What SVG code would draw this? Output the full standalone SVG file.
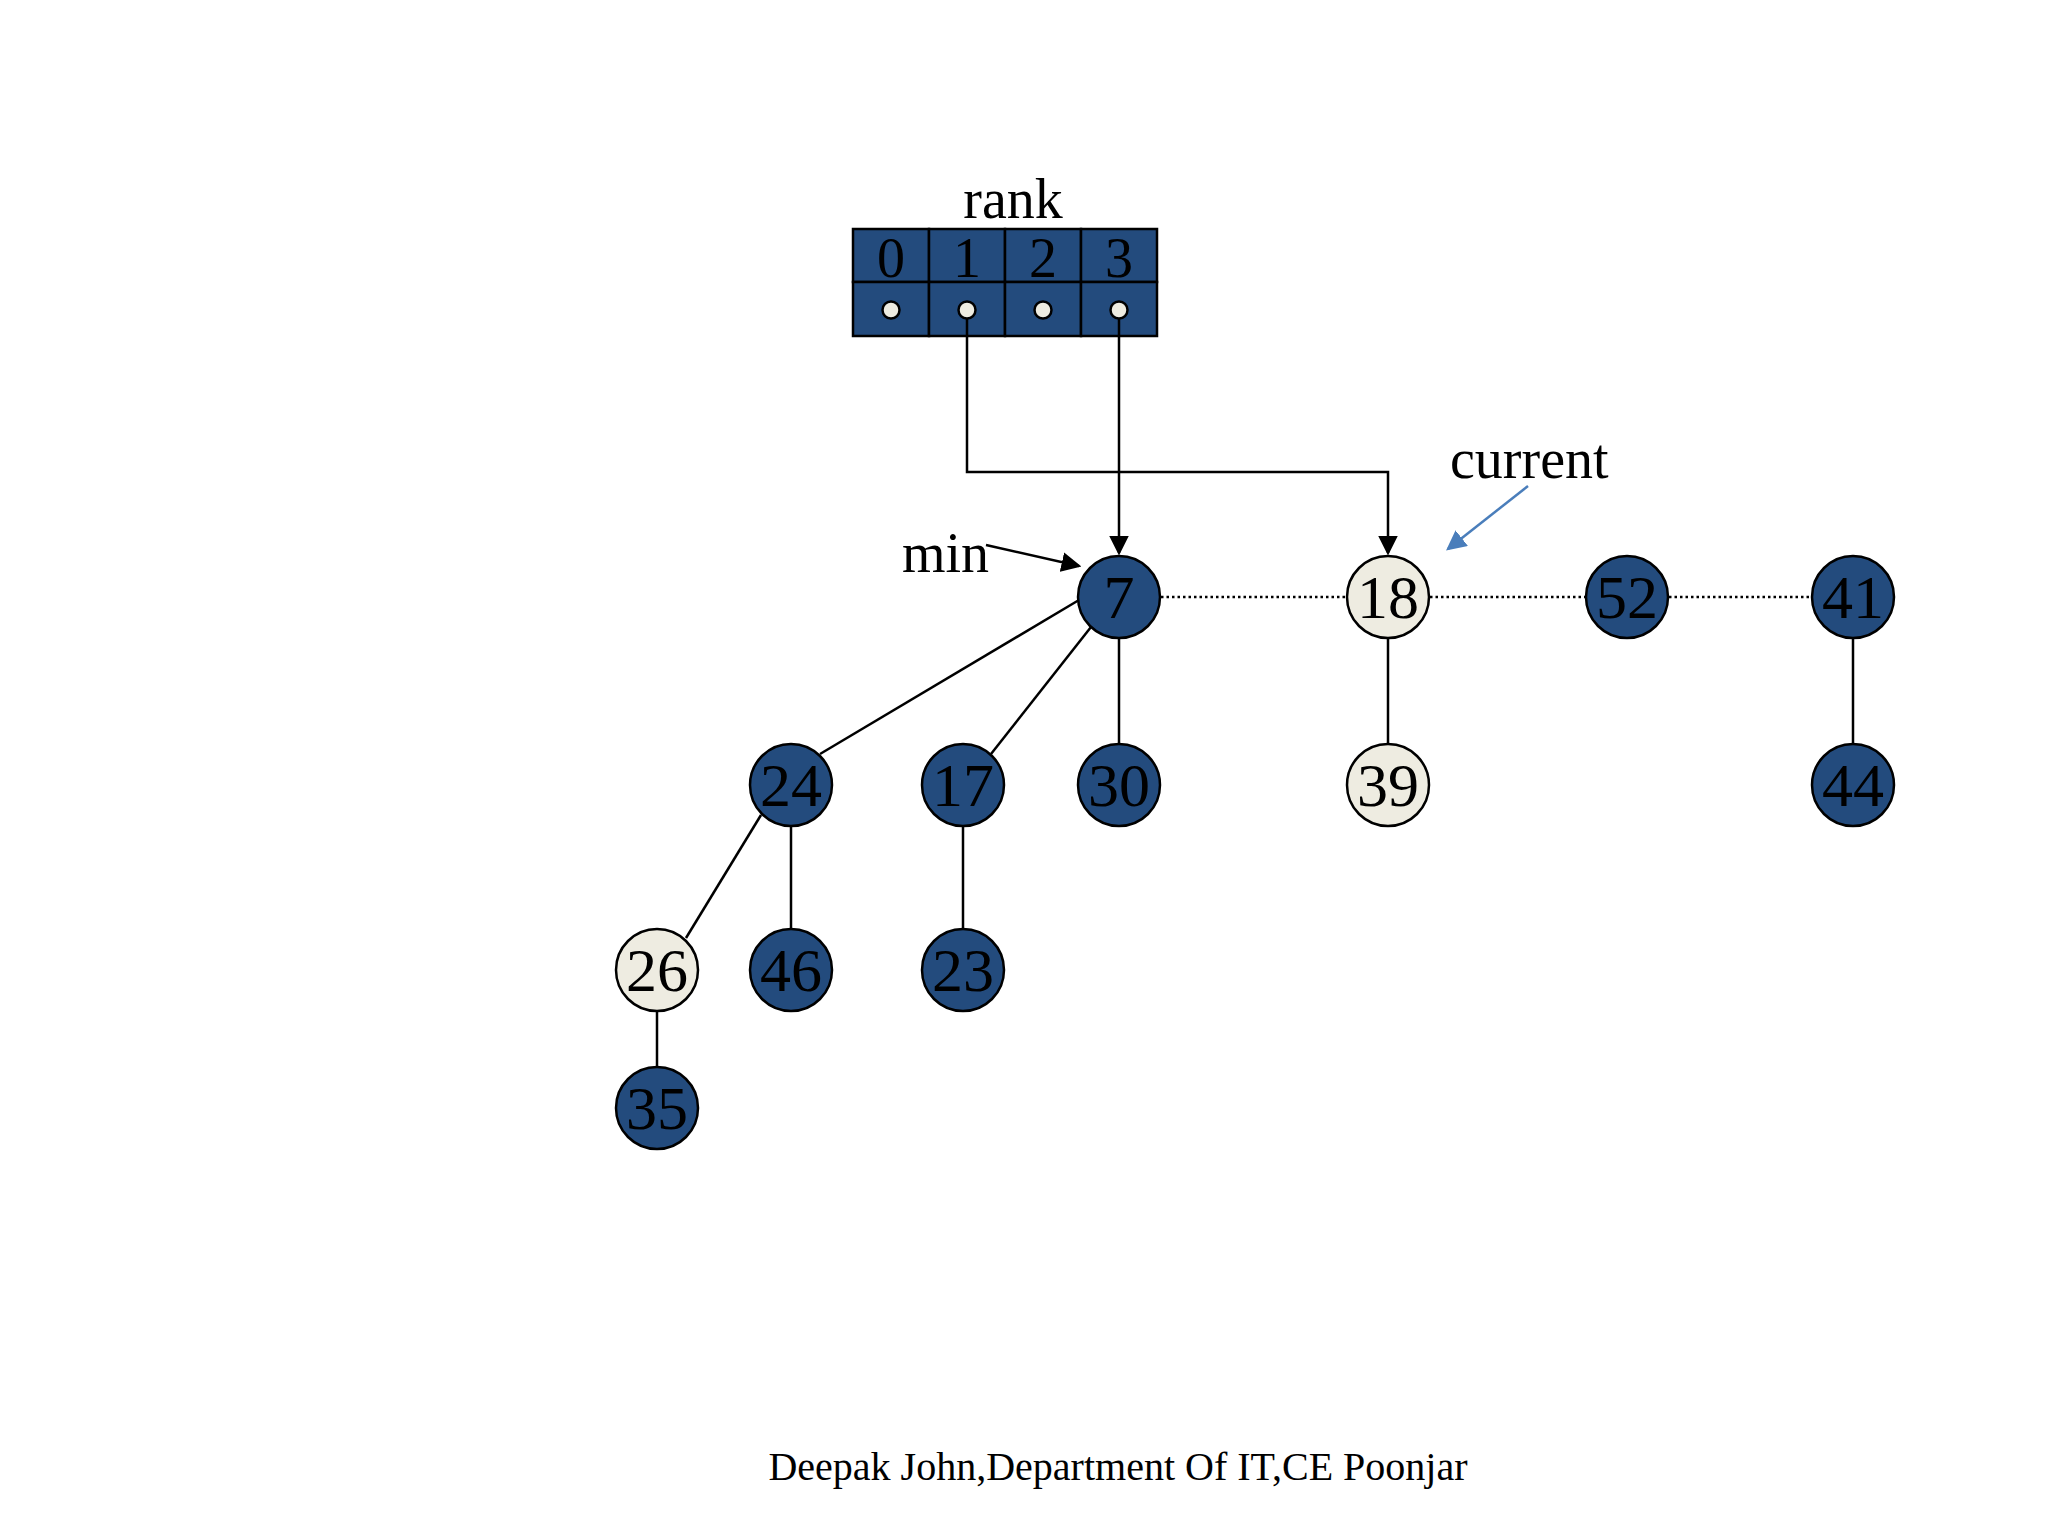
<svg xmlns="http://www.w3.org/2000/svg" width="2048" height="1536" viewBox="0 0 2048 1536">
<defs>
<style>
.t{font-family:"Liberation Serif","Times New Roman",serif;fill:#000}
.lbl{font-size:56px}
.num{font-size:56px;text-anchor:middle}
.nn{font-size:62px;text-anchor:middle}
.dark{fill:#234b7d;stroke:#000;stroke-width:2.5}
.light{fill:#eeece1;stroke:#000;stroke-width:2.5}
.edge{stroke:#000;stroke-width:2.5;fill:none}
.dot{stroke:#000;stroke-width:2.5;stroke-dasharray:2.5 3;fill:none}
.ptr{stroke:#000;stroke-width:2.5;fill:none}
.cell{fill:#234b7d;stroke:#000;stroke-width:2.5}
.pin{fill:#eeece1;stroke:#000;stroke-width:2.5}
</style>
<marker id="ah" markerWidth="8" markerHeight="8" refX="7" refY="4" orient="auto" markerUnits="strokeWidth">
<path d="M0,0 L8,4 L0,8 Z" fill="#000"/>
</marker>
<marker id="ahb" markerWidth="8" markerHeight="8" refX="7" refY="4" orient="auto" markerUnits="strokeWidth">
<path d="M0,0 L8,4 L0,8 Z" fill="#4a7ebb"/>
</marker>
</defs>
<rect width="2048" height="1536" fill="#fff"/>

<g id="rank-table">
<text class="t lbl" x="1013" y="218" text-anchor="middle">rank</text>
<rect class="cell" x="853" y="229" width="76" height="53"/>
<rect class="cell" x="929" y="229" width="76" height="53"/>
<rect class="cell" x="1005" y="229" width="76" height="53"/>
<rect class="cell" x="1081" y="229" width="76" height="53"/>
<rect class="cell" x="853" y="282" width="76" height="54"/>
<rect class="cell" x="929" y="282" width="76" height="54"/>
<rect class="cell" x="1005" y="282" width="76" height="54"/>
<rect class="cell" x="1081" y="282" width="76" height="54"/>
<text class="t num" x="891" y="277">0</text>
<text class="t num" x="967" y="277">1</text>
<text class="t num" x="1043" y="277">2</text>
<text class="t num" x="1119" y="277">3</text>
<circle class="pin" cx="891" cy="310" r="8.5"/>
<circle class="pin" cx="967" cy="310" r="8.5"/>
<circle class="pin" cx="1043" cy="310" r="8.5"/>
<circle class="pin" cx="1119" cy="310" r="8.5"/>
</g>

<g id="connectors">
<path class="ptr" d="M967,318 V472 H1388 V553" marker-end="url(#ah)"/>
<path class="ptr" d="M1119,318 V553" marker-end="url(#ah)"/>
<line class="dot" x1="1161" y1="597" x2="1346" y2="597"/>
<line class="dot" x1="1430" y1="597" x2="1585" y2="597"/>
<line class="dot" x1="1669" y1="597" x2="1811" y2="597"/>
<line class="edge" x1="1079" y1="600" x2="820" y2="754"/>
<line class="edge" x1="1091" y1="627" x2="991" y2="754"/>
<line class="edge" x1="1119" y1="639" x2="1119" y2="743"/>
<line class="edge" x1="1388" y1="639" x2="1388" y2="743"/>
<line class="edge" x1="1853" y1="639" x2="1853" y2="743"/>
<line class="edge" x1="761" y1="815" x2="686" y2="938"/>
<line class="edge" x1="791" y1="827" x2="791" y2="928"/>
<line class="edge" x1="963" y1="827" x2="963" y2="928"/>
<line class="edge" x1="657" y1="1012" x2="657" y2="1066"/>
<line class="edge" x1="986" y1="545" x2="1079" y2="566" marker-end="url(#ah)"/>
<line x1="1528" y1="486" x2="1448" y2="549" stroke="#4a7ebb" stroke-width="2.5" marker-end="url(#ahb)"/>
</g>

<g id="label-min"><text class="t lbl" x="902" y="572">min</text></g>
<g id="label-current"><text class="t lbl" x="1450" y="478">current</text></g>

<g id="n7"><circle class="dark" cx="1119" cy="597" r="41"/><text class="t nn" x="1119" y="618">7</text></g>
<g id="n18"><circle class="light" cx="1388" cy="597" r="41"/><text class="t nn" x="1388" y="618">18</text></g>
<g id="n52"><circle class="dark" cx="1627" cy="597" r="41"/><text class="t nn" x="1627" y="618">52</text></g>
<g id="n41"><circle class="dark" cx="1853" cy="597" r="41"/><text class="t nn" x="1853" y="618">41</text></g>
<g id="n24"><circle class="dark" cx="791" cy="785" r="41"/><text class="t nn" x="791" y="806">24</text></g>
<g id="n17"><circle class="dark" cx="963" cy="785" r="41"/><text class="t nn" x="963" y="806">17</text></g>
<g id="n30"><circle class="dark" cx="1119" cy="785" r="41"/><text class="t nn" x="1119" y="806">30</text></g>
<g id="n39"><circle class="light" cx="1388" cy="785" r="41"/><text class="t nn" x="1388" y="806">39</text></g>
<g id="n44"><circle class="dark" cx="1853" cy="785" r="41"/><text class="t nn" x="1853" y="806">44</text></g>
<g id="n26"><circle class="light" cx="657" cy="970" r="41"/><text class="t nn" x="657" y="991">26</text></g>
<g id="n46"><circle class="dark" cx="791" cy="970" r="41"/><text class="t nn" x="791" y="991">46</text></g>
<g id="n23"><circle class="dark" cx="963" cy="970" r="41"/><text class="t nn" x="963" y="991">23</text></g>
<g id="n35"><circle class="dark" cx="657" cy="1108" r="41"/><text class="t nn" x="657" y="1129">35</text></g>

<g id="footer"><text class="t" x="1118" y="1480" font-size="40" text-anchor="middle">Deepak John,Department Of IT,CE Poonjar</text></g>
</svg>
